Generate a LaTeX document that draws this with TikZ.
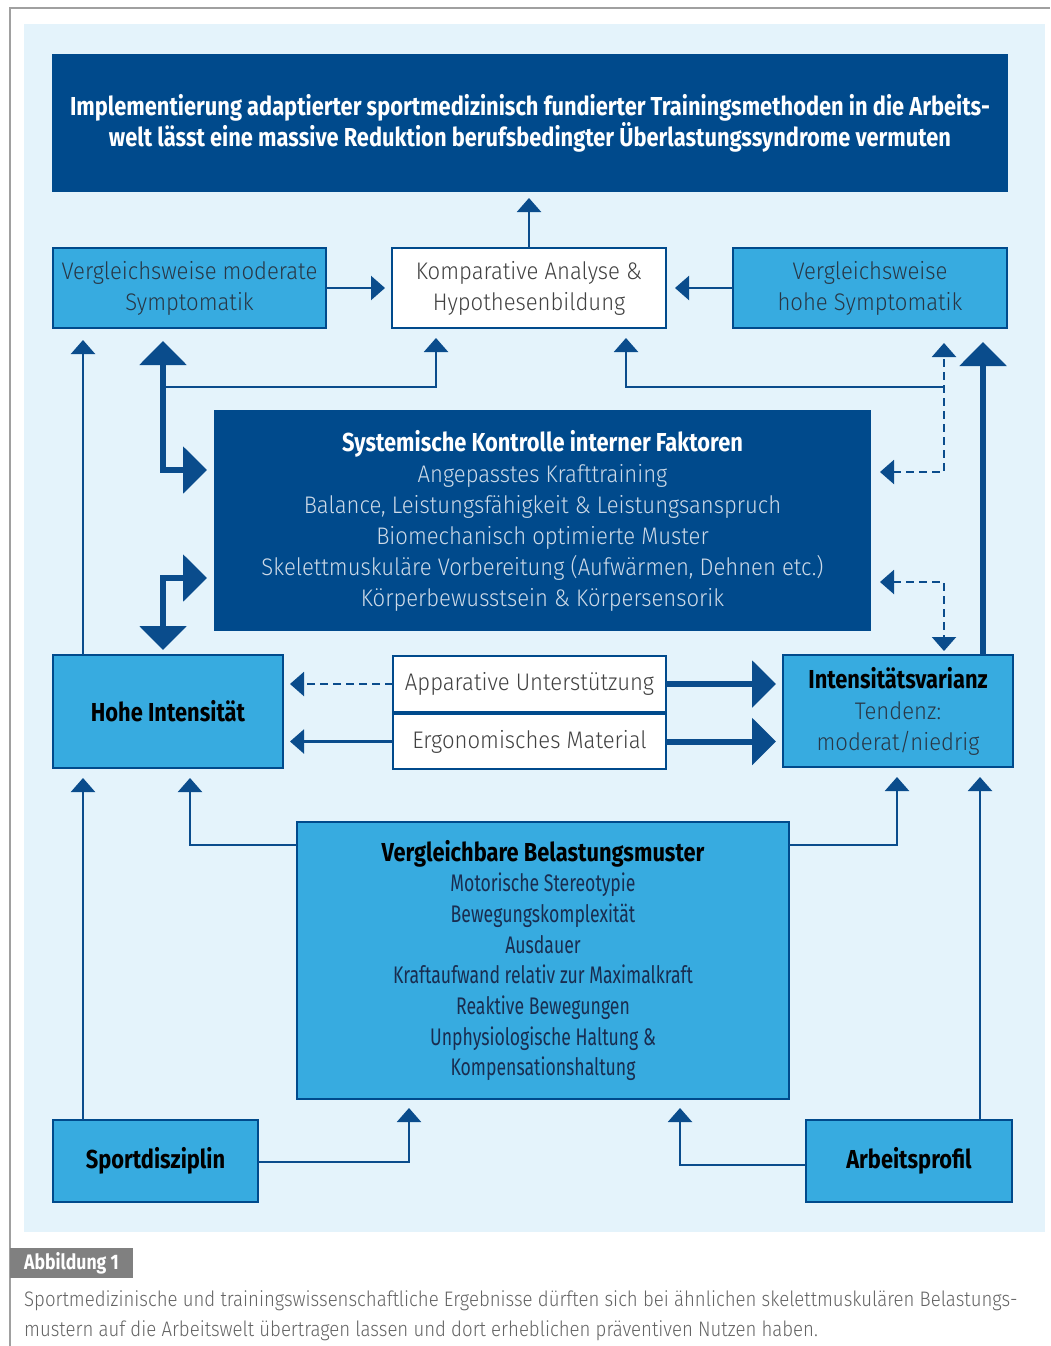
\documentclass[tikz,border=0pt]{standalone}
\usepackage{fontspec}
\setmainfont{Fira Sans}
\newfontfamily\fB{Fira Sans}[FakeStretch=0.84]
\newfontfamily\fL{Fira Sans Light}[FakeStretch=0.92]
\newfontfamily\fM{Fira Sans}[FakeStretch=0.735]
\newfontfamily\fC{Fira Sans Light}[FakeStretch=0.886]
\newcommand\SZ[2]{\fontsize{#1}{#2}\selectfont}
\usetikzlibrary{arrows.meta,calc}
\definecolor{dkblue}{RGB}{0,74,140}
\definecolor{midblue}{RGB}{55,171,224}
\definecolor{panel}{RGB}{228,243,251}
\definecolor{arrowblue}{RGB}{10,76,140}
\definecolor{systext}{RGB}{205,218,232}
\definecolor{modtext}{RGB}{40,55,70}
\definecolor{greytext}{RGB}{65,65,65}
\definecolor{vergtext}{RGB}{25,45,80}
\definecolor{capgray}{RGB}{128,128,128}
\definecolor{captext}{RGB}{100,100,100}
\definecolor{framegray}{RGB}{160,160,160}
\tikzset{
  bx/.style={draw=dkblue, line width=1.6pt, inner sep=0pt, outer sep=0pt, align=center},
  dbox/.style={bx, fill=dkblue},
  mbox/.style={bx, fill=midblue},
  wbox/.style={bx, fill=white},
  tn/.style={draw=arrowblue, line width=2.2pt, -{Triangle[width=24pt,length=14pt]}},
  tn2/.style={draw=arrowblue, line width=2.2pt, {Triangle[width=24pt,length=14pt]}-{Triangle[width=24pt,length=14pt]}},
  tk/.style={draw=arrowblue, line width=6pt, line join=miter, -{Triangle[width=46pt,length=24pt]}},
  tk2/.style={draw=arrowblue, line width=6pt, line join=miter, {Triangle[width=46pt,length=24pt]}-{Triangle[width=46pt,length=24pt]}},
  ds/.style={dash pattern=on 8pt off 5pt},
  boldtxt/.style={font=\fB\bfseries\SZ{26}{31}},
  lighttxt/.style={font=\fL\SZ{24}{31}},
}
\begin{document}
\begin{tikzpicture}[x=1pt,y=-1pt]
\useasboundingbox (0,0) rectangle (1050,1346);
\fill[white] (0,0) rectangle (1050,1346);
\fill[panel] (24,24) rectangle (1045,1232);
\draw[framegray, line width=1.2pt] (10,1346) -- (10,8) -- (1050,8);

% helper coordinates
\coordinate (xL) at (83,0);
\coordinate (xT) at (163,0);
\coordinate (xK1) at (436,0);
\coordinate (xK2) at (626,0);
\coordinate (xD) at (944,0);
\coordinate (xR) at (983,0);
\coordinate (xH) at (190,0);
\coordinate (xV) at (897,0);
\coordinate (xR2) at (980,0);
\coordinate (xS) at (409,0);
\coordinate (xA) at (680,0);
\coordinate (yB1) at (0,387);
\coordinate (yS1) at (0,470);
\coordinate (yS2) at (0,578);
\coordinate (yD1) at (0,472);
\coordinate (yD2) at (0,582);
\coordinate (yV) at (0,845);
\coordinate (yS) at (0,1162);
\coordinate (yA) at (0,1165);

% nodes
\node[dbox, minimum width=954pt, minimum height=136pt, text=white, boldtxt] (top) at (530,123)
  {Implementierung adaptierter sportmedizinisch fundierter Trainingsmethoden in die Arbeits-\\welt lässt eine massive Reduktion berufsbedingter Überlastungssyndrome vermuten};
\node[mbox, minimum width=273pt, minimum height=80pt, lighttxt, text=modtext] (mod) at (189.5,288)
  {Vergleichsweise moderate\\Symptomatik};
\node[wbox, minimum width=274pt, minimum height=80pt, lighttxt, text=greytext] (komp) at (529,288)
  {Komparative Analyse \&\\Hypothesenbildung};
\node[mbox, minimum width=274pt, minimum height=80pt, lighttxt, text=modtext] (hoch) at (870,288)
  {Vergleichsweise\\hohe Symptomatik};
\node[dbox, minimum width=655pt, minimum height=219pt, lighttxt, text=systext] (sys) at (542.5,520.5)
  {{\fB\bfseries\SZ{26}{31}\color{white}Systemische Kontrolle interner Faktoren}\\Angepasstes Krafttraining\\Balance, Leistungsfähigkeit \& Leistungsanspruch\\Biomechanisch optimierte Muster\\Skelettmuskuläre Vorbereitung (Aufwärmen, Dehnen etc.)\\Körperbewusstsein \& Körpersensorik};
\node[mbox, minimum width=230pt, minimum height=113pt, boldtxt, text=black] (hohe) at (168,711.5)
  {Hohe Intensität};
\node[wbox, minimum width=273pt, minimum height=56pt, lighttxt, text=greytext] (app) at (529.5,684)
  {Apparative Unterstützung};
\node[wbox, minimum width=273pt, minimum height=55pt, lighttxt, text=greytext] (ergo) at (529.5,741.5)
  {Ergonomisches Material};
\node[mbox, minimum width=230pt, minimum height=112pt, lighttxt, text=modtext] (var) at (898,711)
  {{\fB\bfseries\SZ{26}{31}\color{black}Intensitätsvarianz}\\Tendenz:\\moderat/niedrig};
\node[mbox, minimum width=492pt, minimum height=277pt, font=\fM\SZ{24}{30.7}, text=vergtext] (verg) at (543,960.5)
  {{\fB\bfseries\SZ{26}{30.7}\color{black}Vergleichbare Belastungsmuster}\\Motorische Stereotypie\\Bewegungskomplexität\\Ausdauer\\Kraftaufwand relativ zur Maximalkraft\\Reaktive Bewegungen\\Unphysiologische Haltung \&\\Kompensationshaltung};
\node[mbox, minimum width=205pt, minimum height=82pt, boldtxt, text=black] (sport) at (155.5,1161)
  {Sportdisziplin};
\node[mbox, minimum width=206pt, minimum height=82pt, boldtxt, text=black] (arb) at (909,1161)
  {Arbeitsprofil};

% caption
\node[fill=capgray, minimum width=123pt, minimum height=30pt, inner sep=0pt, text=white, font=\fB\bfseries\SZ{21}{24}] (cap) at (71.5,1263) {Abbildung 1};
\node[anchor=west, align=left, inner sep=0pt, font=\fC\SZ{21}{30}, text=captext] (captxt) at (24,1316)
  {Sportmedizinische und trainingswissenschaftliche Ergebnisse dürften sich bei ähnlichen skelettmuskulären Belastungs-\\mustern auf die Arbeitswelt übertragen lassen und dort erheblichen präventiven Nutzen haben.};

% connectors
\draw[tn, shorten >=7pt] (komp.north) -- (komp.north |- top.south);
\draw[tn, shorten >=7pt] (mod.east) -- (komp.west);
\draw[tn, shorten >=9pt] (hoch.west) -- (komp.east);
\draw[tn, shorten >=12pt] (xL |- hohe.north) -- (xL |- mod.south);
\draw[tn, shorten >=10pt] (xT |- yB1) -- (xK1 |- yB1) -- (xK1 |- komp.south);
\draw[tn, shorten >=10pt] (xD |- yB1) -- (xK2 |- yB1) -- (xK2 |- komp.south);
\draw[tk2, shorten <=13pt, shorten >=8pt] (xT |- mod.south) -- (xT |- yS1) -- (sys.west |- yS1);
\draw[tk2, shorten <=8pt, shorten >=5pt] (sys.west |- yS2) -- (xT |- yS2) -- (xT |- hohe.north);
\draw[tk, shorten >=14pt] (xR |- var.north) -- (xR |- hoch.south);
\draw[tn2, ds, shorten <=10pt, shorten >=15pt] (sys.east |- yD1) -- (xD |- yD1) -- (xD |- hoch.south);
\draw[tn2, ds, shorten <=10pt, shorten >=4pt] (sys.east |- yD2) -- (xD |- yD2) -- (xD |- var.north);

\draw[tn, ds, shorten >=7pt] (app.west) -- (app.west -| hohe.east);
\draw[tn, shorten >=7pt] (ergo.west) -- (ergo.west -| hohe.east);
\draw[tk, shorten >=7pt] (app.east) -- (app.east -| var.west);
\draw[tk, shorten >=7pt] (ergo.east) -- (ergo.east -| var.west);

\draw[tn, shorten >=10pt] (xL |- sport.north) -- (xL |- hohe.south);
\draw[tn, shorten >=10pt] (verg.west |- yV) -- (xH |- yV) -- (xH |- hohe.south);
\draw[tn, shorten >=10pt] (verg.east |- yV) -- (xV |- yV) -- (xV |- var.south);
\draw[tn, shorten >=10pt] (xR2 |- arb.north) -- (xR2 |- var.south);
\draw[tn, shorten >=9pt] (sport.east |- yS) -- (xS |- yS) -- (xS |- verg.south);
\draw[tn, shorten >=9pt] (arb.west |- yA) -- (xA |- yA) -- (xA |- verg.south);
\end{tikzpicture}
\end{document}
